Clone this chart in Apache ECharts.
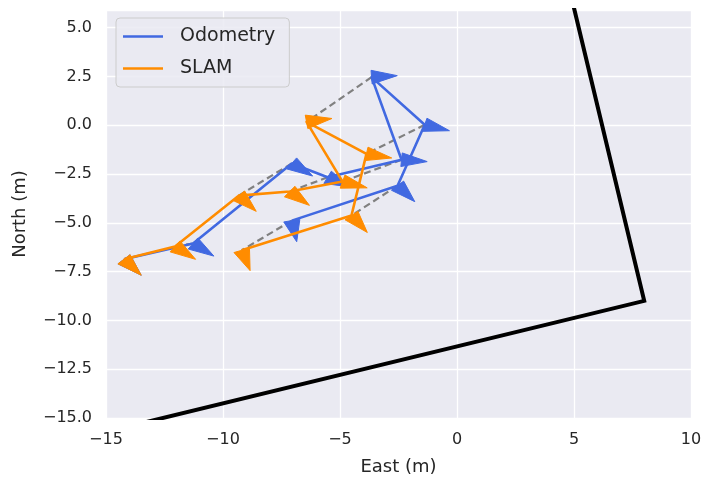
<!DOCTYPE html>
<html>
<head>
<meta charset="utf-8">
<script src="https://cdn.jsdelivr.net/npm/echarts@6/dist/echarts.min.js"></script>
<style>
html,body{margin:0;padding:0;background:#fff;}
#chart{width:711px;height:481px;}
</style>
</head>
<body>
<div id="chart"></div>
<script>
// ---- data ----
const odomX = [-14.23, -11.28, -7.06, -5.53, -2.37, -3.65, -1.38, -2.54, -7.06];
const odomY = [-6.87, -6.06, -1.96, -2.67, -1.77, 2.46, 0.02, -3.10, -4.89];
const odomHeading = [-48, -36, -36, -27, -5, 4, -16, -48, -79];

const slamX = [-14.23, -12.05, -9.33, -7.15, -4.89, -6.43, -3.87, -4.51, -9.20];
const slamY = [-6.87, -6.21, -3.61, -3.40, -2.89, 0.17, -1.47, -4.63, -6.41];
const slamHeading = [-48, -37, -47, -40, -17, 9, -11, -52, -71];

const boundaryX = [4.6, 8, -16];
const boundaryY = [8, -9, -16];

const xTicks = [-15, -10, -5, 0, 5, 10];
const yTicks = [-15, -12.5, -10, -7.5, -5, -2.5, 0, 2.5, 5];

// ---- styles ----
const BLUE = '#4169E1';
const ORANGE = '#FF8C00';
const HEAD_LEN = 1.1;
const HEAD_W = 0.7;
const TXT = '#262626';
const FONT = 'DejaVu Sans';

const odomPts = odomX.map((x, i) => [x, odomY[i]]);
const slamPts = slamX.map((x, i) => [x, slamY[i]]);
const odomPoses = odomX.map((x, i) => [x, odomY[i], odomHeading[i]]);
const slamPoses = slamX.map((x, i) => [x, slamY[i], slamHeading[i]]);
const pairs = odomX.map((x, i) => [x, odomY[i], slamX[i], slamY[i]]);
const boundary = boundaryX.map((x, i) => [x, boundaryY[i]]);

function arrowRenderer(color) {
  return function (params, api) {
    const x = api.value(0), y = api.value(1);
    const t = api.value(2) * Math.PI / 180;
    const c = Math.cos(t), s = Math.sin(t);
    const tip = api.coord([x + HEAD_LEN * c, y + HEAD_LEN * s]);
    const a = api.coord([x - HEAD_W / 2 * s, y + HEAD_W / 2 * c]);
    const b = api.coord([x + HEAD_W / 2 * s, y - HEAD_W / 2 * c]);
    return {
      type: 'polygon',
      shape: { points: [a, tip, b] },
      style: { fill: color, stroke: color, lineWidth: 1 }
    };
  };
}

const minus = s => String(s).replace('-', '\u2212');

const chart = echarts.init(document.getElementById('chart'), null, { renderer: 'canvas' });
chart.setOption({
  animation: false,
  backgroundColor: '#ffffff',
  textStyle: { fontFamily: FONT },
  grid: {
    left: 106, right: 20, top: 10, bottom: 60,
    show: true, backgroundColor: '#EAEAF2', borderWidth: 0
  },
  legend: {
    data: ['Odometry', 'SLAM'],
    orient: 'vertical',
    left: 116, top: 18,
    icon: 'rect',
    itemWidth: 40, itemHeight: 2.5,
    itemGap: 13,
    padding: [9, 14, 9, 7],
    backgroundColor: 'rgba(234,234,242,0.85)',
    borderColor: '#cccccc', borderWidth: 1, borderRadius: 4,
    textStyle: { color: TXT, fontSize: 19, fontFamily: FONT, padding: [0, 0, 0, 12] }
  },
  xAxis: {
    type: 'value', min: -15, max: 10, interval: 5,
    name: 'East (m)', nameLocation: 'middle', nameGap: 40,
    nameTextStyle: { color: TXT, fontSize: 18, fontFamily: FONT },
    axisLine: { show: false }, axisTick: { show: false },
    axisLabel: { color: TXT, fontSize: 16, fontFamily: FONT, margin: 14, formatter: v => minus(v) },
    splitLine: { show: true, lineStyle: { color: '#ffffff', width: 1.3 } }
  },
  yAxis: {
    type: 'value', min: -15, max: 5.9, interval: 2.5,
    name: 'North (m)', nameLocation: 'middle', nameGap: 77,
    nameTextStyle: { color: TXT, fontSize: 18, fontFamily: FONT },
    axisLine: { show: false }, axisTick: { show: false },
    axisLabel: { color: TXT, fontSize: 16, fontFamily: FONT, margin: 14, showMaxLabel: false,
      formatter: v => minus(v.toFixed(1)) },
    splitLine: { show: true, lineStyle: { color: '#ffffff', width: 1.3 } }
  },
  series: [
    {
      type: 'line', name: 'boundary', data: boundary, showSymbol: false, symbol: 'none',
      clip: true, z: 2,
      lineStyle: { color: '#000000', width: 4, join: 'miter' }
    },
    {
      type: 'custom', name: 'pairs', data: pairs, z: 3,
      encode: { x: [0, 2], y: [1, 3] },
      renderItem: function (params, api) {
        const p = api.coord([api.value(0), api.value(1)]);
        const q = api.coord([api.value(2), api.value(3)]);
        return {
          type: 'line',
          shape: { x1: p[0], y1: p[1], x2: q[0], y2: q[1] },
          style: { stroke: '#808080', lineWidth: 2.2, lineDash: [7, 4] }
        };
      }
    },
    {
      type: 'line', name: 'Odometry', data: odomPts, symbol: 'none', z: 4,
      color: BLUE,
      lineStyle: { color: BLUE, width: 2.6, join: 'round' }
    },
    {
      type: 'custom', name: 'odomArrows', data: odomPoses, z: 5,
      encode: { x: 0, y: 1 },
      renderItem: arrowRenderer(BLUE)
    },
    {
      type: 'line', name: 'SLAM', data: slamPts, symbol: 'none', z: 6,
      color: ORANGE,
      lineStyle: { color: ORANGE, width: 2.6, join: 'round' }
    },
    {
      type: 'custom', name: 'slamArrows', data: slamPoses, z: 7,
      encode: { x: 0, y: 1 },
      renderItem: arrowRenderer(ORANGE)
    }
  ]
});
</script>
</body>
</html>
